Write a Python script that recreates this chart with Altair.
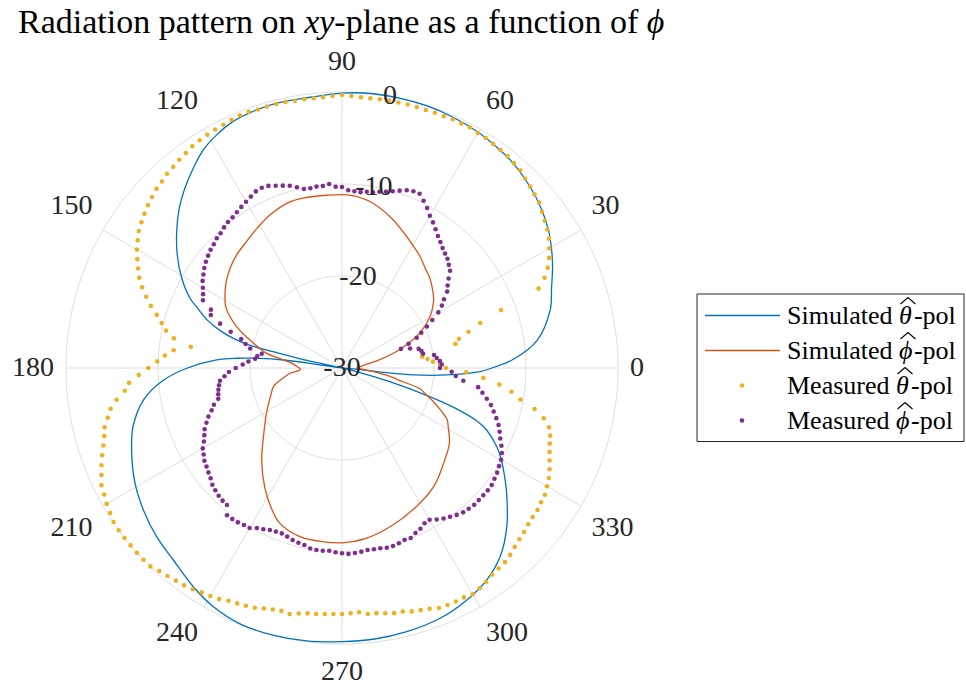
import altair as alt
import pandas as pd

# ---------------------------------------------------------------- styling
SERIF = "Liberation Serif"
GRID = "#dedede"
INK = "#262626"
BLUE, ORANGE, YELLOW, PURPLE = "#0072BD", "#D95319", "#EDB120", "#7E2F8E"

R_PX = 276                     # radius of the 0 dB ring in pixels
DB_MIN, DB_MAX = -30, 0        # radial limits
SPAN = DB_MAX - DB_MIN
PX_PER_DB = R_PX / SPAN

# ---------------------------------------------------------------- data
# measured patterns, sampled every 2 degrees
meas_angle = list(range(0, 360, 2))
meas_theta_db = [
    -18.7, -19.35, -20.1, -20.65, -21.2, -21.1, -17.4, -16.9, -15.7, -14.2,
    -11.6, -6.96, -5.9, -5.12, -4.51, -3.98, -3.47, -3.07, -2.76, -2.41,
    -2.02, -1.83, -1.59, -1.36, -1.07, -0.93, -0.78, -0.7, -0.62, -0.52,
    -0.5, -0.4, -0.43, -0.41, -0.48, -0.47, -0.51, -0.5, -0.49, -0.5,
    -0.49, -0.5, -0.53, -0.51, -0.41, -0.33, -0.41, -0.5, -0.52, -0.49,
    -0.5, -0.43, -0.43, -0.44, -0.45, -0.37, -0.38, -0.47, -0.58, -0.63,
    -0.72, -0.81, -0.92, -1.13, -1.27, -1.46, -1.58, -1.82, -1.97, -2.22,
    -2.47, -2.75, -3.05, -3.36, -3.82, -4.26, -4.8, -5.34, -5.88, -6.57,
    -7.35, -8.16, -9.05, -9.8, -10.45, -11.45, -13.4, -11.6, -10.7, -9.9,
    -8.95, -7.9, -6.8, -6.27, -5.26, -4.46, -3.97, -3.4, -3.13, -2.72,
    -2.26, -1.8, -1.38, -0.91, -0.72, -0.46, -0.28, -0.05, 0.0, 0.0,
    0.0, 0.0, 0.0, -0.02, -0.32, -0.48, -0.67, -0.8, -1.0, -1.24,
    -1.38, -1.55, -1.85, -1.99, -2.12, -2.27, -2.51, -2.7, -2.79, -2.65,
    -2.91, -3.07, -3.11, -3.2, -3.24, -3.26, -3.32, -3.38, -3.12, -3.09,
    -2.93, -2.76, -2.72, -2.48, -2.33, -2.14, -1.86, -1.8, -1.77, -1.76,
    -1.6, -1.78, -1.97, -2.24, -2.35, -2.45, -2.67, -2.97, -3.2, -3.37,
    -3.57, -3.7, -3.74, -3.9, -4.0, -4.28, -4.53, -4.9, -5.3, -5.66,
    -5.97, -6.2, -6.6, -7.4, -8.6, -10.3, -11.4, -12.8, -14.6, -16.5,
]
meas_phi_db = [
    -19.35, -19.15, -19.33, -19.65, -19.9, -21.05, -21.17, -21.41, -22.3, -23.26,
    -22.3, -21.24, -20.57, -19.73, -18.88, -17.91, -17.2, -16.63, -15.87, -15.43,
    -14.87, -14.2, -13.86, -13.5, -13.26, -12.99, -12.63, -12.26, -11.8, -11.34,
    -10.9, -10.3, -9.78, -9.27, -9.28, -9.43, -9.73, -10.02, -10.26, -10.42,
    -10.6, -10.65, -10.78, -10.74, -10.66, -10.33, -10.28, -9.95, -10.1, -10.09,
    -10.16, -10.1, -9.75, -9.4, -9.16, -8.92, -8.65, -8.56, -8.64, -8.9,
    -9.14, -9.35, -9.57, -9.76, -9.87, -10.05, -10.28, -10.4, -10.63, -10.78,
    -11.0, -11.23, -11.5, -11.83, -12.13, -12.54, -12.9, -13.19, -14.4, -14.62,
    -15.9, -17.28, -18.6, -19.2, -19.8, -21.14, -20.7, -20.5, -19.8, -19.2,
    -18.45, -17.7, -17.2, -16.66, -16.5, -16.36, -16.25, -16.14, -15.52, -15.1,
    -14.55, -14.11, -13.65, -13.35, -13.0, -12.52, -12.27, -11.96, -11.8, -11.57,
    -11.36, -11.04, -10.86, -10.7, -10.6, -10.55, -9.7, -9.7, -9.76, -9.88,
    -9.91, -10.3, -10.49, -10.73, -10.82, -10.87, -10.73, -10.55, -10.42, -10.33,
    -10.08, -10.02, -10.03, -10.09, -9.96, -9.86, -9.78, -9.85, -9.93, -10.03,
    -10.0, -9.97, -9.87, -9.88, -9.97, -10.12, -10.07, -10.36, -10.55, -10.88,
    -10.95, -10.58, -10.26, -10.02, -9.74, -9.52, -9.42, -9.32, -9.33, -9.33,
    -9.31, -9.35, -9.52, -9.66, -9.87, -10.03, -10.32, -10.72, -11.17, -11.52,
    -11.89, -12.36, -12.85, -13.32, -13.91, -14.5, -15.06, -16.74, -17.6, -18.07,
]

# simulated patterns
sim_theta_angle = [
    0, 3, 8, 15.6, 21, 25.7, 29.4, 33.8, 38.4, 44,
    50, 54, 60, 66, 72, 78, 84, 90, 96.7, 103.8,
    109.1, 113.8, 118.2, 122.4, 126.6, 131.1, 135.5, 140.4, 145.5, 150.7,
    155.3, 157.5, 160.5, 163, 165, 166, 166.7, 167.7, 169.5, 171.6,
    172.2, 173.3, 174.7, 176.3, 180, 184, 189, 195.7, 202.1, 209.1,
    215.6, 222.3, 228.7, 235.8, 241.7, 248.5, 255.7, 262.6, 270, 276.6,
    283.8, 291.4, 298.3, 304.3, 310, 316.1, 322.7, 327, 330, 333,
    336.8, 338.5, 340.5, 342, 344, 346, 350, 354, 354.5, 356.2,
    358.5, 360,
]
sim_theta_db = [
    -13.7, -11.3, -8.6, -6.5, -5.6, -4.6, -3.85, -3.0, -2.3, -1.6,
    -1.0, -0.74, -0.4, -0.2, -0.05, 0.0, 0.0, -0.12, -0.37, -0.34,
    -0.48, -0.7, -1.22, -1.9, -2.91, -4.03, -5.2, -6.68, -8.27, -10.02,
    -11.8, -13.0, -14.5, -16.2, -18.0, -19.4, -22.3, -25.7, -30.0, -26.5,
    -23.6, -21.0, -18.5, -16.35, -13.2, -10.5, -8.2, -6.4, -5.33, -4.25,
    -3.46, -2.76, -2.22, -1.25, -0.52, -0.05, 0.0, -0.08, -0.25, -0.32,
    -0.49, -0.78, -1.37, -2.1, -3.25, -5.14, -7.5, -9.0, -10.0, -11.1,
    -12.9, -14.2, -17.0, -20.2, -24.6, -28.5, -30.0, -25.8, -22.2, -18.6,
    -15.0, -13.7,
]
sim_phi_angle = [
    0, 4, 8, 12, 16, 20, 24, 30, 36, 40,
    46, 50, 55, 60, 65, 72, 80, 87, 95, 103,
    108, 115, 121, 127, 133, 138, 143, 148, 152.6, 158.6,
    163, 166, 169, 172, 175, 178, 182, 186, 191, 195,
    202, 209, 220, 229, 237, 243, 248, 256, 264, 270,
    278, 287, 298, 308, 318, 325, 331, 334, 337, 340,
    343, 345, 348, 350, 354, 358, 360,
]
sim_phi_db = [
    -28.4, -28.0, -27.5, -26.0, -24.2, -22.5, -20.8, -19.0, -17.7, -17.1,
    -16.3, -15.9, -15.2, -14.6, -13.9, -12.8, -11.7, -11.2, -11.15, -11.05,
    -11.1, -11.6, -12.2, -12.77, -13.2, -13.68, -14.26, -15.0, -15.8, -17.7,
    -19.5, -20.6, -21.66, -23.5, -24.6, -25.1, -25.5, -24.3, -23.2, -22.3,
    -21.6, -20.7, -18.9, -16.7, -14.57, -13.0, -11.85, -11.1, -11.0, -11.0,
    -11.3, -11.98, -12.88, -13.73, -15.0, -15.75, -16.8, -17.3, -18.4, -19.5,
    -20.6, -21.2, -23.7, -24.7, -26.9, -28.1, -28.4,
]

# axes ticks
theta_ticks = list(range(0, 360, 30))
theta_tick_labels = [str(t) for t in theta_ticks]
r_grid = [-20, -10, 0]
r_ticks = [-30, -20, -10, 0]
r_tick_labels = ["-30", "-20", "-10", "0"]
R_LABEL_ANGLE = 80

series_names = ["Simulated", "Simulated", "Measured", "Measured"]
series_greek = ["\u03b8", "\u03d5", "\u03b8", "\u03d5"]

# ---------------------------------------------------------------- scales
XS = alt.Scale(domain=[-SPAN, SPAN], nice=False, zero=False)
YS = alt.Scale(domain=[-SPAN, SPAN], nice=False, zero=False)
RAD = "PI / 180"


def pos(xf, yf):
    return dict(x=alt.X(f"{xf}:Q", scale=XS, axis=None),
                y=alt.Y(f"{yf}:Q", scale=YS, axis=None))


def to_xy(chart):
    """dB/angle rows -> cartesian coordinates in radial units."""
    return (chart
            .transform_calculate(rr=f"max(datum.db, {DB_MIN}) - ({DB_MIN})")
            .transform_calculate(px=f"datum.rr * cos(datum.angle * {RAD})",
                                 py=f"datum.rr * sin(datum.angle * {RAD})"))


# ---------------------------------------------------------------- grid
rings = (to_xy(alt.Chart(pd.DataFrame({"db": r_grid}))
               .transform_calculate(angle="sequence(0, 361, 1)")
               .transform_flatten(["angle"]))
         .mark_line(color=GRID, strokeWidth=1)
         .encode(**pos("px", "py"), detail="db:N", order="angle:Q"))

spokes = (alt.Chart(pd.DataFrame({"angle": theta_ticks}))
          .transform_calculate(x0="0", y0="0",
                               x1=f"{SPAN} * cos(datum.angle * {RAD})",
                               y1=f"{SPAN} * sin(datum.angle * {RAD})")
          .mark_rule(color=GRID, strokeWidth=1)
          .encode(**pos("x0", "y0"), x2="x1:Q", y2="y1:Q"))

# ---------------------------------------------------------------- curves
sim_theta = (to_xy(alt.Chart(pd.DataFrame({"angle": sim_theta_angle, "db": sim_theta_db})))
             .mark_line(color=BLUE, strokeWidth=1.3, interpolate="catmull-rom")
             .encode(**pos("px", "py"), order="angle:Q"))
sim_phi = (to_xy(alt.Chart(pd.DataFrame({"angle": sim_phi_angle, "db": sim_phi_db})))
           .mark_line(color=ORANGE, strokeWidth=1.3, interpolate="catmull-rom")
           .encode(**pos("px", "py"), order="angle:Q"))
meas_theta = (to_xy(alt.Chart(pd.DataFrame({"angle": meas_angle, "db": meas_theta_db})))
              .mark_circle(color=YELLOW, size=21, opacity=1)
              .encode(**pos("px", "py")))
meas_phi = (to_xy(alt.Chart(pd.DataFrame({"angle": meas_angle, "db": meas_phi_db})))
            .mark_circle(color=PURPLE, size=21, opacity=1)
            .encode(**pos("px", "py")))

# ---------------------------------------------------------------- tick labels
# theta labels sit just outside the outer ring, pushed out by half their box
theta_labels = (alt.Chart(pd.DataFrame({"angle": theta_ticks, "label": theta_tick_labels}))
                .transform_calculate(c=f"cos(datum.angle * {RAD})",
                                     s=f"sin(datum.angle * {RAD})")
                .transform_calculate(
                    px=(f"(288 * datum.c + (abs(datum.c) < 1e-6 ? 0 : "
                        f"(datum.c > 0 ? 1 : -1) * 7 * length(datum.label))) / {PX_PER_DB}"),
                    py=(f"(288 * datum.s + (datum.s > 1e-6 ? 18 : "
                        f"(datum.s < -1e-6 ? -15.5 : 0))) / {PX_PER_DB}"))
                .mark_text(font=SERIF, fontSize=28, color=INK,
                           align="center", baseline="middle")
                .encode(**pos("px", "py"), text="label:N"))

r_labels = (alt.Chart(pd.DataFrame({"db": r_ticks, "label": r_tick_labels}))
            .transform_calculate(rr=f"datum.db - ({DB_MIN})")
            .transform_calculate(px=f"datum.rr * cos({R_LABEL_ANGLE} * {RAD})",
                                 py=f"datum.rr * sin({R_LABEL_ANGLE} * {RAD})")
            .mark_text(font=SERIF, fontSize=28, color=INK,
                       align="center", baseline="middle")
            .encode(**pos("px", "py"), text="label:N"))


# ---------------------------------------------------------------- text helpers
def text(s, x, y, size, italic=False, align="left", color="black"):
    kw = dict(font=SERIF, fontSize=size, align=align, baseline="alphabetic", color=color)
    if italic:
        kw["fontStyle"] = "italic"
    return (alt.Chart(pd.DataFrame({"t": [s]}))
            .mark_text(**kw)
            .encode(x=alt.value(x), y=alt.value(y), text="t:N"))


def stroke(x0, y0, x1, y1, k):
    return (alt.Chart(pd.DataFrame({"k": [k]}))
            .mark_rule(color="black", strokeWidth=1.1)
            .encode(x=alt.value(x0), y=alt.value(y0), x2=alt.value(x1), y2=alt.value(y1)))


# title, centred over the polar axes
TS = 34
tx, ty = -48, -59
title = [
    text("Radiation pattern on ", tx, ty, TS),
    text("xy", tx + 8.416 * TS, ty, TS, italic=True),
    text("-plane as a function of ", tx + 9.304 * TS, ty, TS),
    text("\u03d5", tx + 18.496 * TS, ty, TS, italic=True),
]

# legend box with line / dot samples and labels
LX0, LX1, LY0, LY1 = 631, 898, 202, 349.5
LS = 26
base_y = [232, 267, 302, 337]
legend = [
    alt.Chart(pd.DataFrame({"k": [0]})).mark_rect(fill="white", stroke=INK, strokeWidth=1)
    .encode(x=alt.value(LX0), x2=alt.value(LX1), y=alt.value(LY0), y2=alt.value(LY1))
]
for i, (col, b) in enumerate(zip([BLUE, ORANGE, YELLOW, PURPLE], base_y)):
    sy = b - 8.5
    if i < 2:
        legend.append(alt.Chart(pd.DataFrame({"k": [i]}))
                      .mark_rule(color=col, strokeWidth=1.3)
                      .encode(x=alt.value(639), x2=alt.value(714), y=alt.value(sy)))
    else:
        legend.append(alt.Chart(pd.DataFrame({"k": [i]}))
                      .mark_circle(color=col, size=21, opacity=1)
                      .encode(x=alt.value(676), y=alt.value(sy)))
    w = (4.306 if series_names[i] == "Simulated" else 4.193) * LS
    gx = 721 + w
    legend.append(text(series_names[i], 721, b, LS))
    legend.append(text(series_greek[i], gx, b, LS, italic=True))
    # wide hat over the Greek letter
    legend.append(stroke(gx + 1.5, b - 20, gx + 9, b - 26.5, i))
    legend.append(stroke(gx + 9, b - 26.5, gx + 16.5, b - 20, i))
    legend.append(text("-pol", gx + 15, b, LS))

chart = (alt.layer(rings, spokes, sim_theta, sim_phi, meas_theta, meas_phi,
                   theta_labels, r_labels, *title, *legend)
         .properties(width=2 * R_PX, height=2 * R_PX,
                     padding={"left": 66, "top": 92, "right": 348, "bottom": 43},
                     autosize=alt.AutoSizeParams(type="none"))
         .configure_view(stroke=None))

chart.save("out.html", embed_options={"renderer": "svg", "actions": False})
